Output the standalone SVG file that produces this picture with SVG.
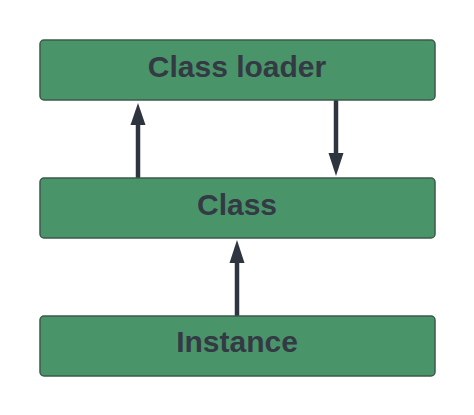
<svg xmlns="http://www.w3.org/2000/svg" width="474" height="415" viewBox="0 0 474 415">
<defs>
<style>
.box{fill:#4a946a;stroke:#3b5a4b;stroke-width:1.5}
.lbl{font-family:"Liberation Sans",Arial,sans-serif;font-weight:bold;font-size:30px;fill:#333a44;text-anchor:middle}
.conn{stroke:#2f3441;stroke-width:4.5;fill:none}
</style>
</defs>
<rect width="474" height="415" fill="#ffffff"/>
<g id="connectors">
<line class="conn" x1="138" y1="178" x2="138" y2="124"/>
<path d="M130.5,125 L138,103 L145.5,125 Z" fill="#2f3441"/>
<line class="conn" x1="336" y1="100" x2="336" y2="154"/>
<path d="M328.5,153 L336,176 L343.5,153 Z" fill="#2f3441"/>
<line class="conn" x1="237" y1="316" x2="237" y2="262"/>
<path d="M229.5,263 L237,240 L244.5,263 Z" fill="#2f3441"/>
</g>
<g id="classloader">
<rect class="box" x="40" y="40" width="395" height="60" rx="4"/>
<text class="lbl" x="237" y="76.5">Class loader</text>
</g>
<g id="class">
<rect class="box" x="40" y="178" width="395" height="60" rx="4"/>
<text class="lbl" x="237" y="214.5">Class</text>
</g>
<g id="instance">
<rect class="box" x="40" y="316" width="395" height="60" rx="4"/>
<text class="lbl" x="237" y="352">Instance</text>
</g>
</svg>
